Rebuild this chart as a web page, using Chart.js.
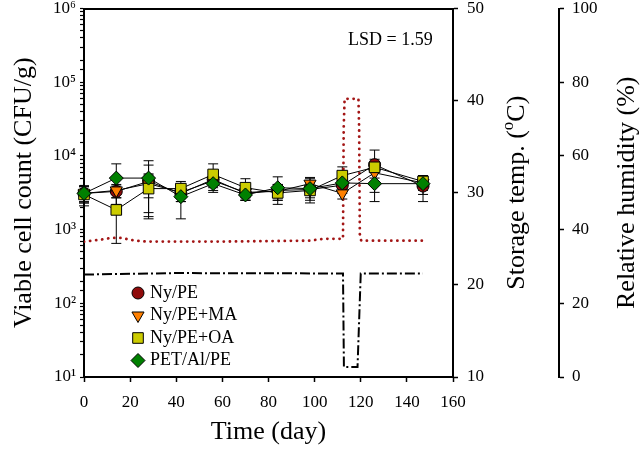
<!DOCTYPE html>
<html>
<head>
<meta charset="utf-8">
<script src="https://cdn.jsdelivr.net/npm/chart.js@4"></script>
<style>
  html, body { margin: 0; background: #fff; }
</style>
</head>
<body>
<canvas id="chart" width="640" height="453"></canvas>
<script>
// sampling days (storage time)
const days = [0, 14, 28, 42, 56, 70, 84, 98, 112, 126, 147];

// viable cell counts (CFU/g) and their standard deviations
const nyPE     = [3100, 3300, 4500, 3100, 4800, 3100, 3400, 3500, 4000, 7600, 3900];
const nyPEErr  = [700, 600, 3000, 700, 900, 600, 700, 800, 900, 4400, 1500];
const nyPEMA    = [3100, 3400, 4200, 3200, 4600, 3200, 3300, 4200, 3100, 5900, 4300];
const nyPEMAErr = [800, 700, 1500, 800, 900, 700, 800, 900, 500, 1500, 900];
const nyPEOA    = [3000, 1850, 3600, 3600, 5600, 3700, 3150, 3400, 5400, 7000, 4500];
const nyPEOAErr = [900, 1200, 1900, 900, 2200, 1200, 650, 900, 1700, 2000, 700];
const petAlPE    = [3100, 5000, 5000, 2800, 4200, 2950, 3700, 3600, 4300, 4200, 4200];
const petAlPEErr = [800, 2800, 3600, 1400, 1000, 250, 1500, 1300, 900, 1800, 1200];

// storage temperature (oC)
const tempDays = [0, 7, 12, 16, 22, 28, 60, 98, 104, 112.3, 112.6, 113, 119, 119.3, 119.6, 120.2, 147];
const tempVals = [24.7, 24.9, 25.1, 25.1, 24.8, 24.7, 24.7, 24.8, 25.0, 25.0, 37.0, 40.2, 40.2, 37.0, 25.5, 24.8, 24.8];

// relative humidity (%)
const rhDays = [0, 40, 112.3, 112.7, 118.6, 120.0, 147];
const rhVals = [27.8, 28.2, 28.1, 2.7, 2.7, 28.1, 28.1];

const xTicks = [0, 20, 40, 60, 80, 100, 120, 140, 160];
const supDigits = ['\u2070', '\u00b9', '\u00b2', '\u00b3', '\u2074', '\u2075', '\u2076'];

const serif = "'Liberation Serif', 'Times New Roman', serif";
const toXY = (xs, ys) => xs.map((x, i) => ({ x: x, y: ys[i] }));

const series = [
  { label: 'Ny/PE', values: nyPE, errors: nyPEErr, color: '#8f0b0b', style: 'circle', radius: 6, rotation: 0, order: 4 },
  { label: 'Ny/PE+MA', values: nyPEMA, errors: nyPEMAErr, color: '#ff8000', style: 'triangle', radius: 7, rotation: 180, order: 3 },
  { label: 'Ny/PE+OA', values: nyPEOA, errors: nyPEOAErr, color: '#cccc00', style: 'rect', radius: 7.5, rotation: 0, order: 2 },
  { label: 'PET/Al/PE', values: petAlPE, errors: petAlPEErr, color: '#008000', style: 'rectRot', radius: 7, rotation: 0, order: 1 }
];

// fix axis box sizes so the plot sits where the figure has it
function fixBox(w, h) {
  return function(scale) {
    if (w != null) scale.width = w;
    if (h != null) scale.height = h;
    scale.paddingTop = 0;
    scale.paddingBottom = 0;
    scale.paddingLeft = 0;
    scale.paddingRight = 0;
  };
}

const extras = {
  id: 'extras',
  beforeDatasetsDraw(chart) {
    // error bars
    const ctx = chart.ctx;
    const xs = chart.scales.x, ys = chart.scales.y;
    ctx.save();
    ctx.strokeStyle = '#000';
    ctx.lineWidth = 1;
    series.forEach(s => {
      s.values.forEach((v, i) => {
        const px = xs.getPixelForValue(days[i]);
        const top = ys.getPixelForValue(v + s.errors[i]);
        const bot = ys.getPixelForValue(Math.max(v - s.errors[i], 10));
        ctx.beginPath();
        ctx.moveTo(px, top); ctx.lineTo(px, bot);
        ctx.moveTo(px - 5, top); ctx.lineTo(px + 5, top);
        ctx.moveTo(px - 5, bot); ctx.lineTo(px + 5, bot);
        ctx.stroke();
      });
    });
    ctx.restore();
  },
  afterDraw(chart) {
    const ctx = chart.ctx;
    const area = chart.chartArea;
    const midY = (area.top + area.bottom) / 2;
    ctx.save();
    ctx.fillStyle = '#000';

    // legend
    ctx.font = '18px ' + serif;
    ctx.textBaseline = 'middle';
    ctx.textAlign = 'left';
    series.forEach((s, i) => {
      const y = 293 + i * 22.5;
      ctx.fillStyle = s.color;
      ctx.strokeStyle = '#000';
      ctx.lineWidth = 1;
      Chart.helpers.drawPoint(ctx, { pointStyle: s.style, radius: s.radius, rotation: s.rotation, borderWidth: 1 }, 138, y);
      ctx.fillStyle = '#000';
      ctx.fillText(s.label, 150, y);
    });

    // LSD note
    ctx.fillText('LSD = 1.59', 348, 40);

    // right axis titles (read bottom to top)
    ctx.font = '26px ' + serif;
    const t1 = 'Storage temp. (', t2 = 'o', t3 = 'C)';
    const w1 = ctx.measureText(t1).width, w3 = ctx.measureText(t3).width;
    ctx.font = '17px ' + serif;
    const w2 = ctx.measureText(t2).width;
    const total = w1 + w2 + w3;
    ctx.translate(chart.scales.y2.left + 64, midY);
    ctx.rotate(-Math.PI / 2);
    ctx.textAlign = 'left';
    ctx.font = '26px ' + serif;
    ctx.fillText(t1, -total / 2, 0);
    ctx.font = '17px ' + serif;
    ctx.fillText(t2, -total / 2 + w1, -8);
    ctx.font = '26px ' + serif;
    ctx.fillText(t3, -total / 2 + w1 + w2, 0);
    ctx.setTransform(1, 0, 0, 1, 0, 0);

    ctx.translate(chart.scales.y3.left + 68, midY);
    ctx.rotate(-Math.PI / 2);
    ctx.textAlign = 'center';
    ctx.fillText('Relative humidity (%)', 0, 0);
    ctx.restore();
  }
};

const datasets = series.map(s => ({
  label: s.label,
  data: toXY(days, s.values),
  yAxisID: 'y',
  borderColor: '#000',
  borderWidth: 1,
  pointStyle: s.style,
  pointRadius: s.radius,
  pointRotation: s.rotation,
  pointBackgroundColor: s.color,
  pointBorderColor: '#000',
  pointBorderWidth: 1,
  order: s.order,
  clip: false
}));

datasets.push({
  label: 'Storage temp.',
  data: toXY(tempDays, tempVals),
  yAxisID: 'y2',
  borderColor: '#a31515',
  borderWidth: 2.8,
  borderDash: [0.1, 6],
  borderCapStyle: 'round',
  pointRadius: 0,
  order: 6
});

datasets.push({
  label: 'Relative humidity',
  data: toXY(rhDays, rhVals),
  yAxisID: 'y3',
  borderColor: '#000',
  borderWidth: 2,
  borderDash: [10, 3, 2, 3],
  pointRadius: 0,
  order: 5
});

const tickFont = { family: serif, size: 17 };
const titleFont = { family: serif, size: 26 };

new Chart(document.getElementById('chart'), {
  type: 'line',
  data: { datasets: datasets },
  plugins: [extras],
  options: {
    responsive: false,
    animation: false,
    layout: { padding: { top: 7, left: 0, right: 0, bottom: 0 } },
    plugins: { legend: { display: false }, tooltip: { enabled: false } },
    scales: {
      x: {
        type: 'linear', position: 'bottom', min: 0, max: 160,
        afterBuildTicks: scale => { scale.ticks = xTicks.map(v => ({ value: v })); },
        ticks: { font: tickFont, color: '#000', padding: 10, maxRotation: 0, autoSkip: false },
        grid: { drawOnChartArea: false, tickLength: 5, tickWidth: 1.5, tickColor: '#000' },
        border: { color: '#000', width: 2 },
        title: { display: true, text: 'Time (day)', font: titleFont, color: '#000', padding: { top: 0, bottom: 5 } },
        afterFit: fixBox(null, 76)
      },
      xTop: {
        type: 'linear', position: 'top', min: 0, max: 160,
        ticks: { display: false },
        grid: { drawOnChartArea: false, drawTicks: false },
        border: { color: '#000', width: 2 },
        afterFit: fixBox(null, 0)
      },
      y: {
        type: 'logarithmic', position: 'left', min: 10, max: 1e6,
        ticks: {
          font: tickFont, color: '#000', padding: 4, autoSkip: false,
          callback: v => {
            const e = Math.round(Math.log10(v));
            return Math.abs(Math.log10(v) - e) < 1e-9 ? '10' + supDigits[e] : '';
          }
        },
        grid: { drawOnChartArea: false, tickLength: 4, tickWidth: 1.2, tickColor: '#000' },
        border: { color: '#000', width: 2 },
        title: { display: true, text: 'Viable cell count (CFU/g)', font: titleFont, color: '#000', padding: { top: 9, bottom: 0 } },
        afterFit: fixBox(84, null)
      },
      y2: {
        type: 'linear', position: 'right', weight: 0, min: 10, max: 50,
        ticks: { stepSize: 10, font: tickFont, color: '#000', padding: 9 },
        grid: { drawOnChartArea: false, tickLength: 5, tickWidth: 1.5, tickColor: '#000' },
        border: { color: '#000', width: 2 },
        afterFit: fixBox(106, null)
      },
      y3: {
        type: 'linear', position: 'right', weight: 1, min: 0, max: 100,
        ticks: { stepSize: 20, font: tickFont, color: '#000', padding: 8 },
        grid: { drawOnChartArea: false, tickLength: 5, tickWidth: 1.5, tickColor: '#000' },
        border: { color: '#000', width: 2 },
        afterFit: fixBox(81, null)
      }
    }
  }
});
</script>
</body>
</html>
